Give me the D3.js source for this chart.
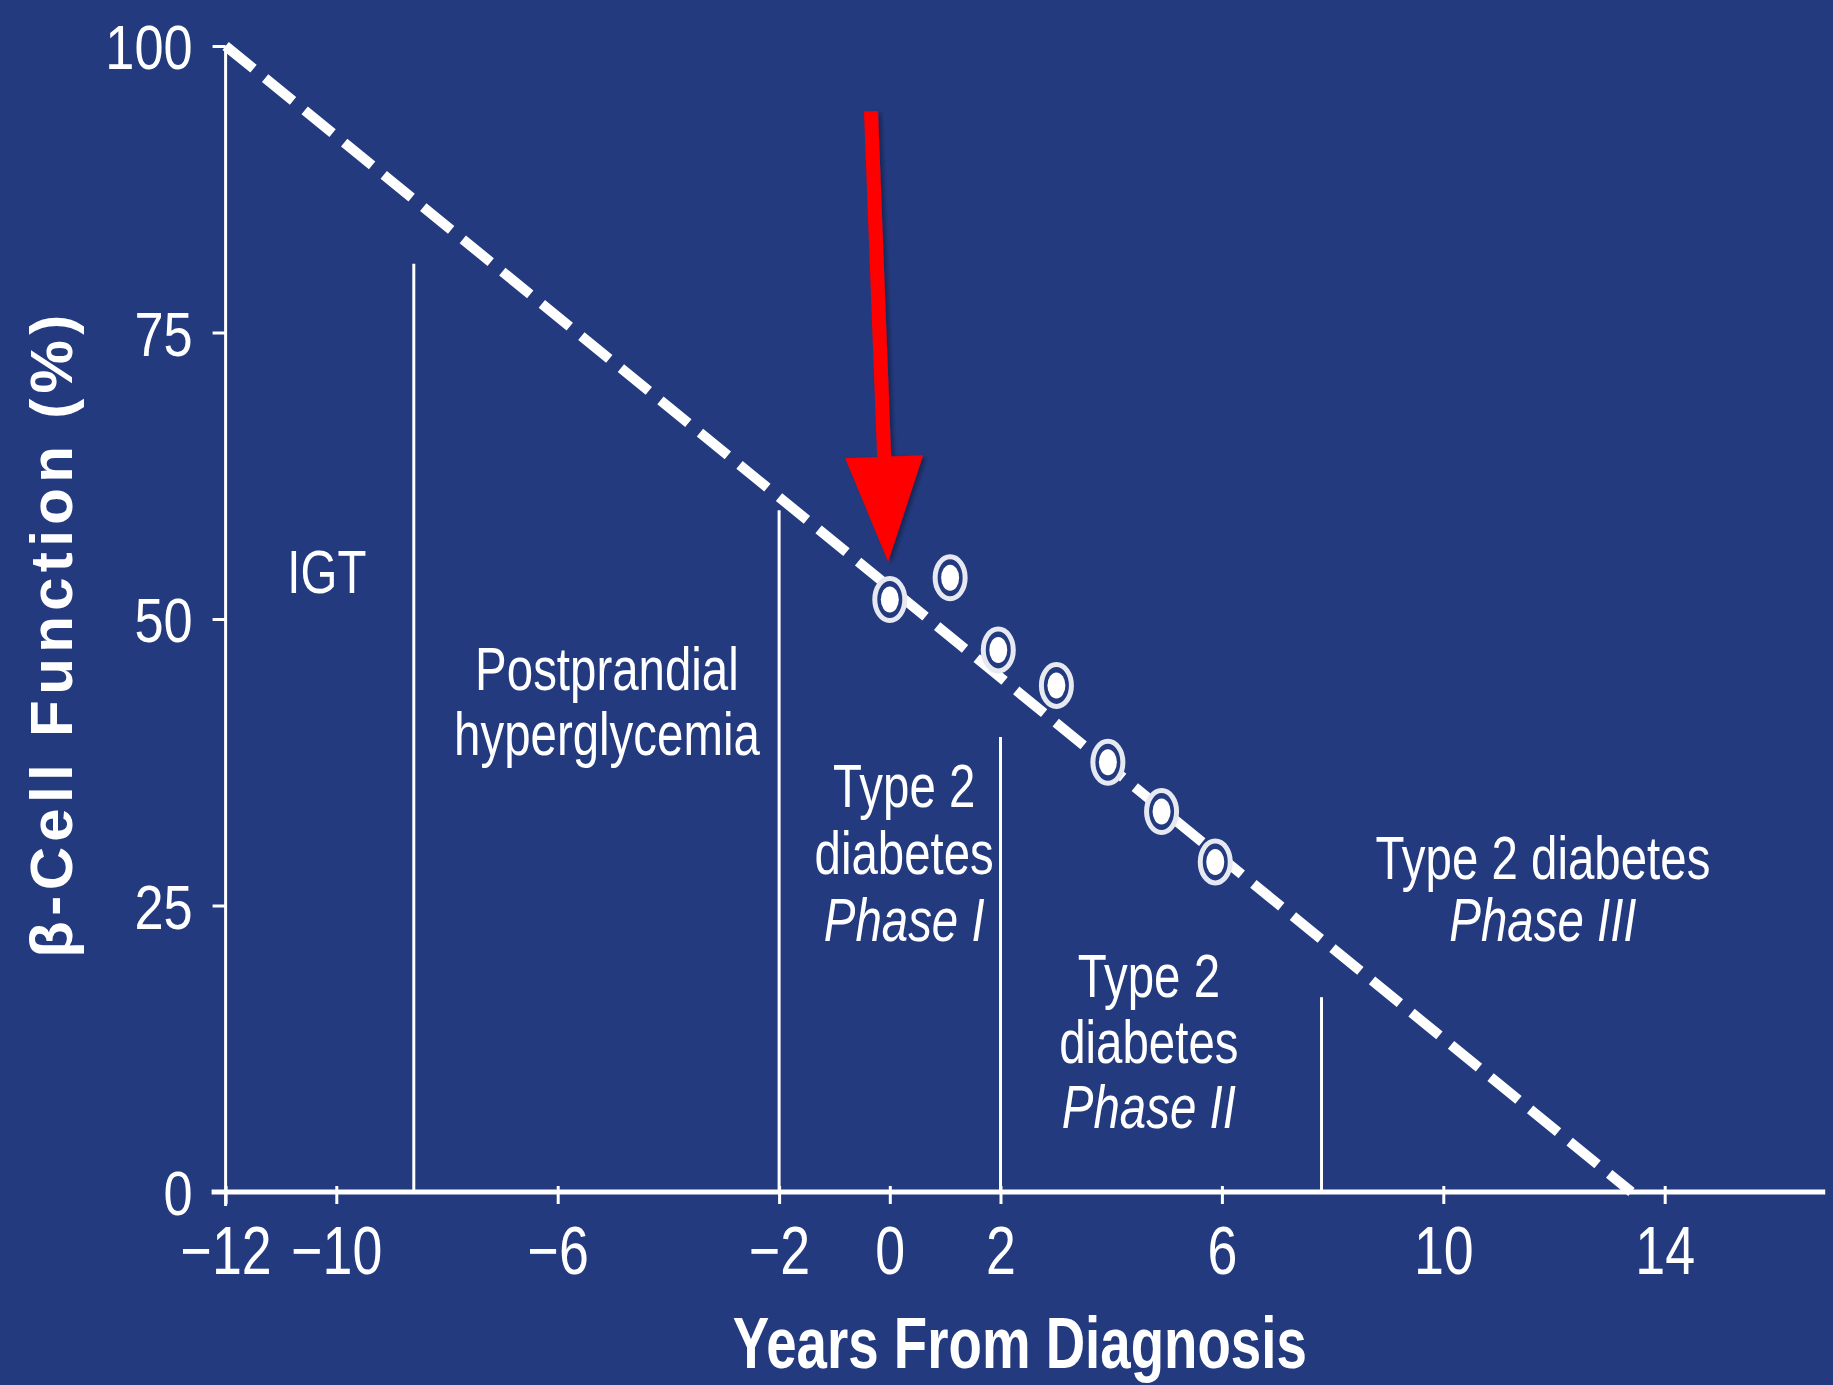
<!DOCTYPE html>
<html>
<head>
<meta charset="utf-8">
<script src="https://cdn.jsdelivr.net/npm/d3@7"></script>
<style>
  body { margin: 0; background: #243a7f; }
  svg text { fill: #fff; font-family: 'Liberation Sans', Arial, sans-serif; }
</style>
</head>
<body>
<div id="chart"></div>
<script>
// data
const xTicks = [-12, -10, -6, -2, 0, 2, 6, 10, 14];
const yTicks = [0, 25, 50, 75, 100];

// fitted decline line (start and where it hits 0)
const lineYears = [-12, 13.4];
const lineValues = [100, 0];

// observed points (years, % function)
const pointYears = [0, 1.09, 1.96, 3.01, 3.94, 4.91, 5.88];
const pointValues = [51.7, 53.6, 47.3, 44.2, 37.5, 33.2, 28.8];

// phase boundaries: year and height of the line
const phaseYears = [-8.6, -2, 2, 7.8];
const phaseTops = [81, 59.5, 39.7, 17];

const phaseLabels = [
  ["IGT"],
  ["Postprandial", "hyperglycemia"],
  ["Type 2", "diabetes", "Phase I"],
  ["Type 2", "diabetes", "Phase II"],
  ["Type 2 diabetes", "Phase III"]
];

const width = 1833, height = 1385;

let x = d3.scaleLinear().domain([-12, 14]).range([225.6, 1664.7]);
let y = d3.scaleLinear().domain([0, 100]).range([1192, 46]);

// squeeze text horizontally, the original uses a condensed face
function narrow(sel, k) {
  sel.each(function () {
    let w = this.getComputedTextLength();
    d3.select(this).attr("textLength", w * k).attr("lengthAdjust", "spacingAndGlyphs");
  });
}

let svg = d3.select("#chart").append("svg")
  .attr("width", width)
  .attr("height", height);

svg.append("rect").attr("width", width).attr("height", height).attr("fill", "#243a7f");

// phase boundary lines
svg.append("g").selectAll("line")
  .data(phaseYears)
  .join("line")
  .attr("x1", d => x(d)).attr("x2", d => x(d))
  .attr("y1", (d, i) => y(phaseTops[i]))
  .attr("y2", y(0))
  .attr("stroke", "#fff")
  .attr("stroke-width", 3);

// x axis
let xAxis = svg.append("g")
  .attr("transform", `translate(0,${y(0)})`)
  .call(d3.axisBottom(x).tickValues(xTicks).tickSizeInner(12).tickSizeOuter(0).tickPadding(22)
    .tickFormat(d => d < 0 ? "\u2212" + Math.abs(d) : d));
xAxis.select(".domain").remove();
xAxis.selectAll(".tick line").attr("y1", -6).attr("stroke", "#fff").attr("stroke-width", 3);
xAxis.selectAll(".tick text")
  .attr("font-size", 68).attr("fill", "#fff")
  .style("font-family", "'Liberation Sans', Arial, sans-serif")
  .call(narrow, 0.79);
xAxis.append("line")
  .attr("x1", x(-12) - 14).attr("x2", x(16.9))
  .attr("stroke", "#fff").attr("stroke-width", 5);

// y axis
let yAxis = svg.append("g")
  .attr("transform", `translate(${x(-12)},0)`)
  .call(d3.axisLeft(y).tickValues(yTicks).tickSizeInner(13).tickSizeOuter(0).tickPadding(20));
yAxis.select(".domain").remove();
yAxis.selectAll(".tick line").attr("stroke", "#fff").attr("stroke-width", 3);
yAxis.selectAll(".tick text")
  .attr("font-size", 63).attr("dy", "0.36em").attr("fill", "#fff")
  .style("font-family", "'Liberation Sans', Arial, sans-serif")
  .call(narrow, 0.83);
yAxis.append("line")
  .attr("y1", y(100)).attr("y2", y(0) + 14)
  .attr("stroke", "#fff").attr("stroke-width", 3);

// dashed decline line
let line = d3.line().x(d => x(d[0])).y(d => y(d[1]));
svg.append("path")
  .datum(lineYears.map((d, i) => [d, lineValues[i]]))
  .attr("d", line)
  .attr("fill", "none")
  .attr("stroke", "#fff")
  .attr("stroke-width", 10)
  .attr("stroke-dasharray", "36,15");

// observed points
let pts = svg.append("g").selectAll("g")
  .data(pointYears.map((d, i) => [d, pointValues[i]]))
  .join("g")
  .attr("transform", d => `translate(${x(d[0])},${y(d[1])})`);
pts.append("ellipse").attr("rx", 15).attr("ry", 21)
  .attr("fill", "#243a7f").attr("stroke", "#e6e9f2").attr("stroke-width", 5);
pts.append("ellipse").attr("rx", 9).attr("ry", 13).attr("fill", "#fff");

// phase labels: [centre year, first baseline value, line step in value units]
const labelPos = [[-10.17, 52.3, 0], [-5.11, 43.8, 5.7], [0.26, 33.6, 5.85], [4.68, 17.0, 5.7], [11.8, 27.3, 5.4]];
phaseLabels.forEach((lines, i) => {
  let t = svg.append("text")
    .attr("text-anchor", "middle")
    .attr("font-size", 62);
  lines.forEach((s, j) => {
    t.append("tspan")
      .attr("x", x(labelPos[i][0]))
      .attr("y", y(labelPos[i][1] - j * labelPos[i][2]))
      .attr("font-style", s.startsWith("Phase") ? "italic" : "normal")
      .text(s)
      .call(narrow, 0.765);
  });
});

// red arrow pointing at diagnosis
let tail = [x(-0.34), y(94.3)], tip = [x(-0.03), y(55)];
let dx = tip[0] - tail[0], dy = tip[1] - tail[1], len = Math.hypot(dx, dy);
let ux = dx / len, uy = dy / len, nx = -uy, ny = ux;
let headLen = 105, headW = 39, shaftW = 7;
let bx = tip[0] - ux * headLen, by = tip[1] - uy * headLen;
let arrow = [
  [tail[0] + nx * shaftW, tail[1] + ny * shaftW],
  [bx + nx * shaftW, by + ny * shaftW],
  [bx + nx * headW, by + ny * headW],
  tip,
  [bx - nx * headW, by - ny * headW],
  [bx - nx * shaftW, by - ny * shaftW],
  [tail[0] - nx * shaftW, tail[1] - ny * shaftW]
];
let defs = svg.append("defs");
defs.append("filter").attr("id", "shadow")
  .append("feDropShadow").attr("dx", 3).attr("dy", 2).attr("stdDeviation", 2)
  .attr("flood-color", "#000").attr("flood-opacity", 0.35);
svg.append("path")
  .attr("d", "M" + arrow.map(p => p.join(",")).join("L") + "Z")
  .attr("fill", "#ff0000")
  .attr("filter", "url(#shadow)");

// axis titles
svg.append("text")
  .attr("x", x(0) + 130).attr("y", 1368)
  .attr("text-anchor", "middle")
  .attr("font-size", 72).attr("font-weight", "bold")
  .attr("textLength", 574).attr("lengthAdjust", "spacingAndGlyphs")
  .text("Years From Diagnosis");

svg.append("text")
  .attr("transform", `translate(72,${y(48.5)}) rotate(-90)`)
  .attr("text-anchor", "middle")
  .attr("font-size", 60).attr("font-weight", "bold")
  .attr("textLength", 643).attr("lengthAdjust", "spacing")
  .text("\u03b2-Cell Function (%)");
</script>
</body>
</html>
